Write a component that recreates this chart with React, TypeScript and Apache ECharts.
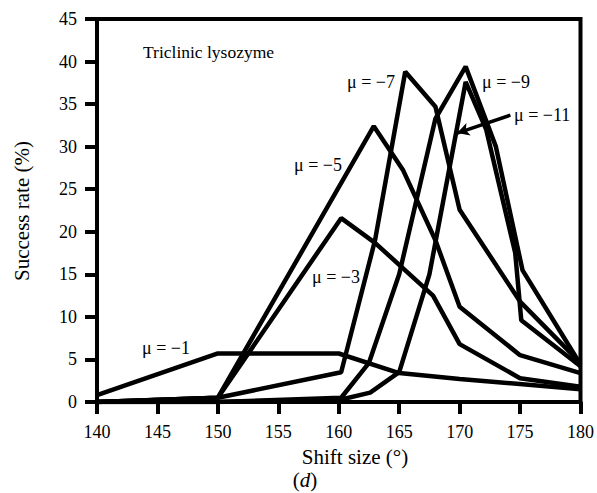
import React, { useEffect, useRef } from "react";
import * as echarts from "echarts";

const xTicks = [140, 145, 150, 155, 160, 165, 170, 175, 180];
const yTicks = [0, 5, 10, 15, 20, 25, 30, 35, 40, 45];

const mu1 = [[140, 0.8], [150, 5.7], [160, 5.7], [165, 3.4], [170, 2.7], [180, 1.5]];
const mu3 = [[140, 0], [150, 0.5], [160.2, 21.6], [163, 18.7], [167.8, 12.5], [170, 6.8], [175, 2.8], [180, 1.8]];
const mu5 = [[140, 0], [150, 0.5], [162.9, 32.4], [165.3, 27.3], [168, 19], [170, 11.2], [175, 5.5], [180, 3.4]];
const mu7 = [[140, 0], [150, 0.5], [160.2, 3.5], [163, 19], [165.5, 38.8], [168, 34.7], [170, 22.6], [175, 11.8], [180, 4.6]];
const mu9 = [[140, 0], [150, 0], [160.2, 0.5], [162.5, 4.6], [165, 15], [168, 33.3], [170.5, 39.4], [173, 30], [175.2, 15.5], [180, 4.4]];
const mu11 = [[140, 0], [150, 0], [160.2, 0.3], [162.6, 1.1], [165, 3.5], [167.5, 15], [170.5, 37.6], [172.2, 32], [174.6, 17.5], [175.1, 9.6], [180, 4.2]];

const seriesNames = ["μ=−1", "μ=−3", "μ=−5", "μ=−7", "μ=−9", "μ=−11"];
const seriesData = [mu1, mu3, mu5, mu7, mu9, mu11];

const FONT = "'Liberation Serif', 'Times New Roman', serif";

export default function App() {
  const ref = useRef<HTMLDivElement>(null);
  useEffect(() => {
    if (!ref.current) return;
    const chart = echarts.init(ref.current, null, { renderer: "svg" });
    const txt = (text: string, x: number, y: number, size = 16, extra: any = {}) => ({
      type: "text",
      x,
      y,
      style: { text, fontFamily: FONT, fontSize: size, fill: "#000", textVerticalAlign: "middle", ...extra },
    });
    chart.setOption({
      animation: false,
      backgroundColor: "#fff",
      grid: { left: 97, right: 14, top: 19, bottom: 91, show: true, borderColor: "#000", borderWidth: 4 },
      xAxis: {
        type: "value",
        min: 140,
        max: 180,
        interval: 5,
        axisLine: { lineStyle: { color: "#000", width: 4 } },
        axisTick: { length: 12, lineStyle: { color: "#000", width: 4 } },
        axisLabel: { color: "#000", fontFamily: FONT, fontSize: 18, margin: 21 },
        splitLine: { show: false },
      },
      yAxis: {
        type: "value",
        min: 0,
        max: 45,
        interval: 5,
        axisLine: { show: true, lineStyle: { color: "#000", width: 4 } },
        axisTick: { show: true, length: 12, lineStyle: { color: "#000", width: 4 } },
        axisLabel: { color: "#000", fontFamily: FONT, fontSize: 18, margin: 20 },
        splitLine: { show: false },
      },
      series: seriesData.map((d, i) => ({
        type: "line",
        name: seriesNames[i],
        data: d,
        showSymbol: false,
        symbol: "none",
        lineStyle: { color: "#000", width: 4.5 },
        z: 3,
        markLine:
          i === 5
            ? {
                silent: true,
                symbol: ["none", "arrow"],
                symbolSize: [10, 12],
                label: { show: false },
                lineStyle: { color: "#000", width: 3.5, type: "solid" },
                data: [[{ coord: [174.2, 33.7] }, { coord: [169.8, 31.6] }]],
              }
            : undefined,
      })),
      graphic: [
        txt("Triclinic lysozyme", 143, 52, 17.5),
        txt("μ = −7", 347, 82, 18),
        txt("μ = −9", 482, 82, 18),
        txt("μ = −11", 514, 115, 18),
        txt("μ = −5", 294, 165, 18),
        txt("μ = −3", 312, 277, 18),
        txt("μ = −1", 142, 348, 18),
        txt("Shift size (°)", 355, 457, 21, { textAlign: "center" }),
        {
          type: "text",
          x: 305,
          y: 480,
          style: {
            text: "{a|(}{b|d}{a|)}",
            textAlign: "center",
            textVerticalAlign: "middle",
            rich: {
              a: { fontFamily: FONT, fontSize: 21, fill: "#000" },
              b: { fontFamily: FONT, fontSize: 21, fontStyle: "italic", fill: "#000" },
            },
          },
        },
        {
          type: "text",
          x: 22,
          y: 211,
          rotation: Math.PI / 2,
          style: { text: "Success rate (%)", fontFamily: FONT, fontSize: 21, fill: "#000", textAlign: "center", textVerticalAlign: "middle" },
        },
      ],
    });
    return () => chart.dispose();
  }, []);
  return <div ref={ref} style={{ width: 597, height: 493, position: "absolute", left: 0, top: 0 }} />;
}
